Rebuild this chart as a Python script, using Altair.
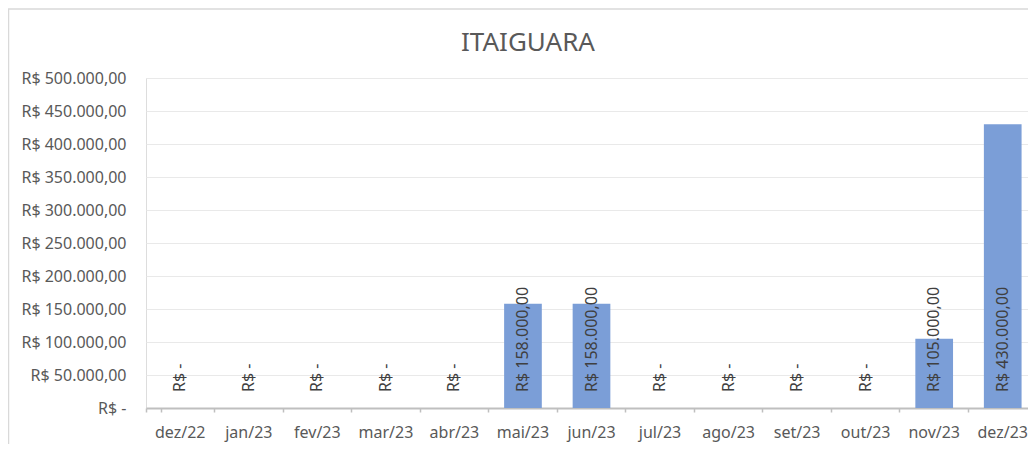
import altair as alt
import pandas as pd

meses = ["dez/22", "jan/23", "fev/23", "mar/23", "abr/23", "mai/23", "jun/23",
         "jul/23", "ago/23", "set/23", "out/23", "nov/23", "dez/23"]
valores = [0, 0, 0, 0, 0, 158000, 158000, 0, 0, 0, 0, 105000, 430000]
y_ticks = [0, 50000, 100000, 150000, 200000, 250000, 300000, 350000, 400000, 450000, 500000]
titulo = "ITAIGUARA"

df = pd.DataFrame({"mes": meses, "valor": valores})

FONT = "Noto Sans"
BRL = ("datum.{f} == 0 ? 'R$ -' : 'R$ ' + replace(replace(replace(format(datum.{f}, ',.2f'), ',', '#'), '.', ','), '#', '.')")

W, H = 882, 330
RANGE_W = 891
PI = 0.45

x = alt.X("mes:N", sort=meses, title=None,
          scale=alt.Scale(paddingInner=PI, paddingOuter=PI / 2, range=[0, RANGE_W]),
          axis=alt.Axis(labelAngle=0, labelFont=FONT, labelFontSize=16, labelColor="#595959",
                        domainColor="#bfbfbf", domainWidth=2, tickColor="#bfbfbf", tickSize=4,
                        tickWidth=1.5, bandPosition=-(PI / 2) / (1 - PI), tickExtra=True,
                        labelPadding=12, grid=False))
y = alt.Y("valor:Q", title=None,
          scale=alt.Scale(domain=[0, 500000], nice=False),
          axis=alt.Axis(values=y_ticks, tickCount=len(y_ticks) + 1,
                        labelExpr=BRL.format(f="value"), labelFont=FONT,
                        labelFontSize=16, labelColor="#595959", ticks=False, domain=False,
                        labelOverlap=False, labelPadding=20, gridColor="#e9e9e9", gridWidth=1))

base = alt.Chart(df)
bars = base.mark_bar(color="#7b9ed7").encode(x=x, y=y)

labels = base.transform_calculate(rotulo=BRL.format(f="valor")).mark_text(
    angle=270, align="left", baseline="middle", dx=16, font=FONT, fontSize=16, color="#404040"
).encode(x=alt.X("mes:N", sort=meses), y=alt.datum(0), text="rotulo:N")

one = pd.DataFrame({"t": [titulo]})
title = alt.Chart(one).mark_text(font=FONT, fontSize=26, color="#595959", align="center",
                                 baseline="middle").encode(
    x=alt.value(382), y=alt.value(-35), text="t:N")

border_top = alt.Chart(one).mark_rule(color="#d9d9d9", strokeWidth=1.5).encode(
    x=alt.value(-138), x2=alt.value(RANGE_W), y=alt.value(-69))
border_left = alt.Chart(one).mark_rule(color="#d9d9d9", strokeWidth=1.5).encode(
    x=alt.value(-137.5), y=alt.value(-69), y2=alt.value(H + 36))

chart = alt.layer(bars, labels, title, border_top, border_left).properties(
    width=W, height=H,
    autosize=alt.AutoSizeParams(type="none"),
    padding={"left": 138, "top": 70, "right": 0, "bottom": 36},
).configure_view(stroke=None).configure(background="white")

chart.save("out.html", embed_options={"renderer": "svg", "actions": False})
